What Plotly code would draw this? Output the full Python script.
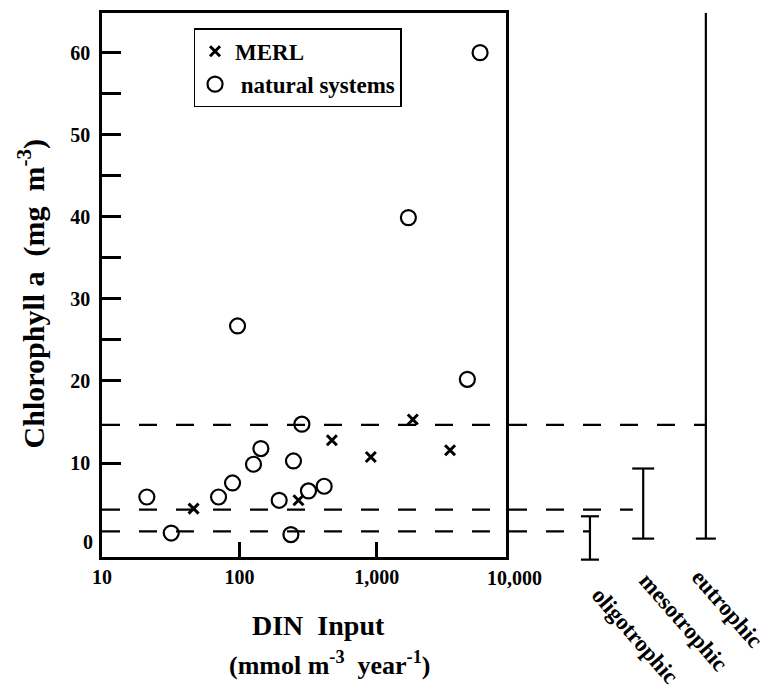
import plotly.graph_objects as go

# ---------------- data ----------------
# natural systems (open circles)
nat_x = [21.2, 31.9, 70.5, 89.1, 96.9, 126.6, 143.3, 194.7, 236.9, 247.4,
         284.8, 318.1, 413.8, 1697, 4559, 5641]
nat_y = [5.86, 1.47, 5.86, 7.57, 26.7, 9.85, 11.76, 5.46, 1.28, 10.25,
         14.73, 6.6, 7.17, 39.9, 20.2, 60.0]
# MERL mesocosms (crosses)
merl_x = [46.4, 269, 470.6, 904.4, 1827, 3412]
merl_y = [4.45, 5.46, 12.78, 10.74, 15.3, 11.56]

x_tick_vals = [10, 100, 1000]
x_tick_text = ["10", "100", "1,000"]
y_tick_vals = [10, 20, 30, 40, 50, 60]
y_tick_text = ["10", "20", "30", "40", "50", "60"]
y_minor_vals = [25, 35, 45, 55]

# trophic classes: chlorophyll ranges and dashed boundary levels
trophic_names = ["oligotrophic", "mesotrophic", "eutrophic"]
trophic_low = [-1.77, 0.79, 0.79]
trophic_high = [3.51, 9.33, 64.83]
boundary_levels = [1.68, 4.33, 14.65]

# ---------------- layout helpers ----------------
X_RANGE = [1.0, 3.94]      # log10 units
Y_RANGE = [-1.45, 64.83]
FONT = "Liberation Serif, Times New Roman, serif"

bar_x = [1.2078, 1.3396, 1.4947]       # paper x of the range bars
cap_half = [0.0223, 0.0272, 0.0247]
top_cap = [True, True, False]
dash_end = [1.2078, 1.314, 1.4947]
label_pos = [(1.319, -0.144), (1.440, -0.120), (1.5467, -0.095)]


def yp(v):
    return (v - Y_RANGE[0]) / (Y_RANGE[1] - Y_RANGE[0])


fig = go.Figure()
fig.add_trace(go.Scatter(
    x=merl_x, y=merl_y, mode="markers", name="MERL",
    marker=dict(symbol="x-thin", size=10, color="black",
                line=dict(color="black", width=3)),
    legendgroup="a"))
fig.add_trace(go.Scatter(
    x=nat_x, y=nat_y, mode="markers", name="\u00a0natural systems",
    marker=dict(symbol="circle-open", size=15, color="black",
                line=dict(color="black", width=2.2)),
    legendgroup="b"))

shapes = []
# dashed boundary lines
for lvl, xe in zip(boundary_levels, dash_end):
    shapes.append(dict(type="line", xref="paper", yref="y", x0=0, x1=xe,
                       y0=lvl, y1=lvl, layer="below",
                       line=dict(color="black", width=2.2, dash="18px,19px")))
# range bars
for xb, lo, hi, ch, tc in zip(bar_x, trophic_low, trophic_high, cap_half, top_cap):
    shapes.append(dict(type="line", xref="paper", yref="paper", x0=xb, x1=xb,
                       y0=yp(lo), y1=yp(hi), line=dict(color="black", width=2.2)))
    shapes.append(dict(type="line", xref="paper", yref="paper", x0=xb - ch, x1=xb + ch,
                       y0=yp(lo), y1=yp(lo), line=dict(color="black", width=2.2)))
    if tc:
        shapes.append(dict(type="line", xref="paper", yref="paper", x0=xb - ch, x1=xb + ch,
                           y0=yp(hi), y1=yp(hi), line=dict(color="black", width=2.2)))

annotations = []
for name, (lx, ly) in zip(trophic_names, label_pos):
    annotations.append(dict(text=name, xref="paper", yref="paper", x=lx, y=ly,
                            textangle=49, showarrow=False, xanchor="center", yanchor="middle",
                            font=dict(family=FONT, size=23, color="black", weight="bold")))
# "0" y label (no tick in original) and "10,000" x label
annotations.append(dict(text="0", xref="paper", yref="y", x=0, y=0, xanchor="right",
                        yanchor="middle", xshift=-7, yshift=3, showarrow=False,
                        font=dict(family=FONT, size=20, color="black", weight="bold")))
annotations.append(dict(text="10,000", xref="paper", yref="paper",
                        x=(4 - X_RANGE[0]) / (X_RANGE[1] - X_RANGE[0]), y=0,
                        xanchor="center", yanchor="top", yshift=-8, showarrow=False,
                        font=dict(family=FONT, size=20, color="black", weight="bold")))
# axis titles
annotations.append(dict(text="Chlorophyll a  (mg  m<sup>-3</sup>)", xref="paper", yref="paper",
                        x=-0.1750, y=0.4832, textangle=-90, showarrow=False,
                        xanchor="center", yanchor="middle",
                        font=dict(family=FONT, size=30, color="black", weight="bold")))
annotations.append(dict(text="DIN  Input", xref="paper", yref="paper",
                        x=0.535, y=-0.1256, showarrow=False, xanchor="center", yanchor="middle",
                        font=dict(family=FONT, size=28, color="black", weight="bold")))
annotations.append(dict(text="(mmol m<sup>-3</sup>  year<sup>-1</sup>)", xref="paper", yref="paper",
                        x=0.5626, y=-0.1955, showarrow=False, xanchor="center", yanchor="middle",
                        font=dict(family=FONT, size=26, color="black", weight="bold")))

tickfont = dict(family=FONT, size=20, color="black", weight="bold")
fig.update_layout(
    width=769, height=689,
    margin=dict(l=101.7, r=263, t=13, b=132.3, autoexpand=False),
    paper_bgcolor="white", plot_bgcolor="white",
    showlegend=True,
    legend=dict(x=0.2266, y=0.9719, xanchor="left", yanchor="top",
                bgcolor="white", bordercolor="black", borderwidth=1.5,
                font=dict(family=FONT, size=23, color="black", weight="bold"),
                tracegroupgap=0, itemwidth=30),
    xaxis=dict(type="log", range=X_RANGE, tickvals=x_tick_vals, ticktext=x_tick_text,
               ticks="inside", ticklen=15, tickwidth=2.5, tickcolor="black",
               showline=True, linewidth=2.5, linecolor="black", mirror=True,
               showgrid=False, zeroline=False, tickfont=tickfont),
    yaxis=dict(range=Y_RANGE, tickvals=y_tick_vals, ticktext=y_tick_text,
               ticks="inside", ticklen=19, tickwidth=2.5, tickcolor="black",
               minor=dict(tickvals=y_minor_vals, ticks="inside", ticklen=19,
                          tickwidth=2.5, tickcolor="black", showgrid=False),
               showline=True, linewidth=2.5, linecolor="black", mirror=True,
               showgrid=False, zeroline=False, tickfont=tickfont, ticklabelstandoff=5),
    shapes=shapes, annotations=annotations,
)

fig.write_html("out.html")
